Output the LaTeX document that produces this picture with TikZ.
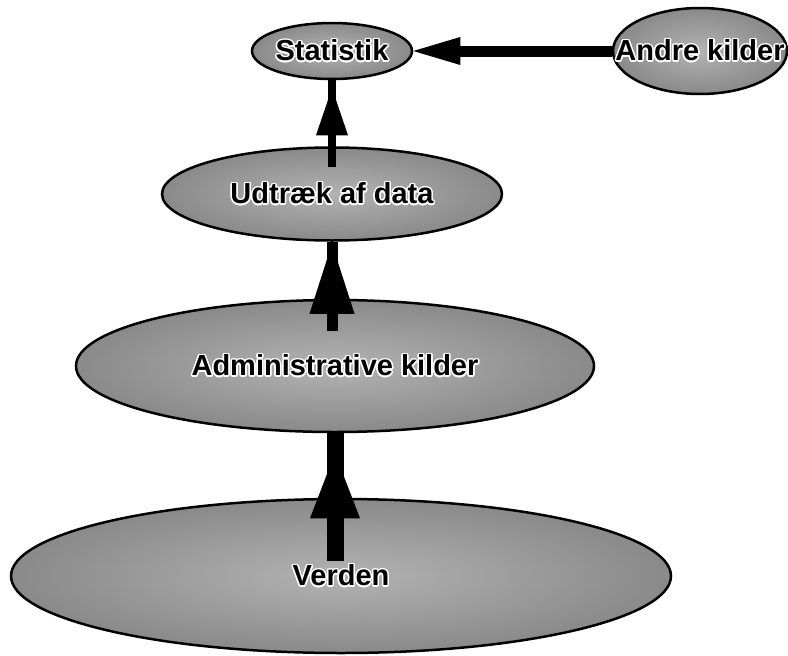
\documentclass[tikz,border=0pt]{standalone}
\usepackage{fontspec}
\usepackage{contour}
\setmainfont{Liberation Sans}
\usetikzlibrary{arrows.meta,shapes.geometric,decorations.markings}
\contourlength{1.5pt}
\newcommand{\halo}[1]{\contour{white}{#1}}

\begin{document}
\begin{tikzpicture}[x=1pt, y=-1pt,
    blob/.style={ellipse, draw, line width=2.5pt, inner sep=0pt,
                 inner color=black!30, outer color=black!46},
    every label/.style={font=\bfseries\fontsize{29}{31}\selectfont, inner sep=0pt},
    lift/.style n args={4}{line width=#1, postaction={decorate, decoration={markings,
        mark=at position #2 with {\arrow{Triangle[length=#3, width=#4, line width=0pt]}}}}}]
  \useasboundingbox (0,0) rectangle (788,656);

  % ellipses, bottom to top
  \node[blob, minimum width=660pt, minimum height=154pt, label=center:\halo{Verden}]                (verden) at (341,576) {};
  \node[blob, minimum width=518pt, minimum height=132pt, label=center:\halo{Administrative kilder}] (admin)  at (335,366) {};
  \node[blob, minimum width=340pt, minimum height=93pt,  label=center:\halo{Udtræk af data}]        (udtr)   at (332,194) {};
  \node[blob, minimum width=160pt, minimum height=56pt,  label=center:\halo{Statistik}]             (stat)   at (332,51)  {};
  \node[blob, minimum width=174pt, minimum height=86pt,  label=center:\halo{Andre kilder}]          (andre)  at (700,51)  {};

  % arrows
  \draw[lift={17pt}{-20pt}{65pt}{50pt}] ([yshift=-63pt]admin.south |- verden.north) -- (admin.south);
  \draw[lift={11pt}{-2pt}{70pt}{45pt}]  ([yshift=-32pt]udtr.south |- admin.north)   -- (udtr.south);
  \draw[lift={8pt}{-8pt}{47pt}{32pt}]   ([yshift=-21pt]udtr.north)                  -- (stat.south);
  \draw[line width=11pt, -{Triangle[length=47pt, width=28pt, line width=0pt]}] (andre.west) -- (stat.east);
\end{tikzpicture}
\end{document}
